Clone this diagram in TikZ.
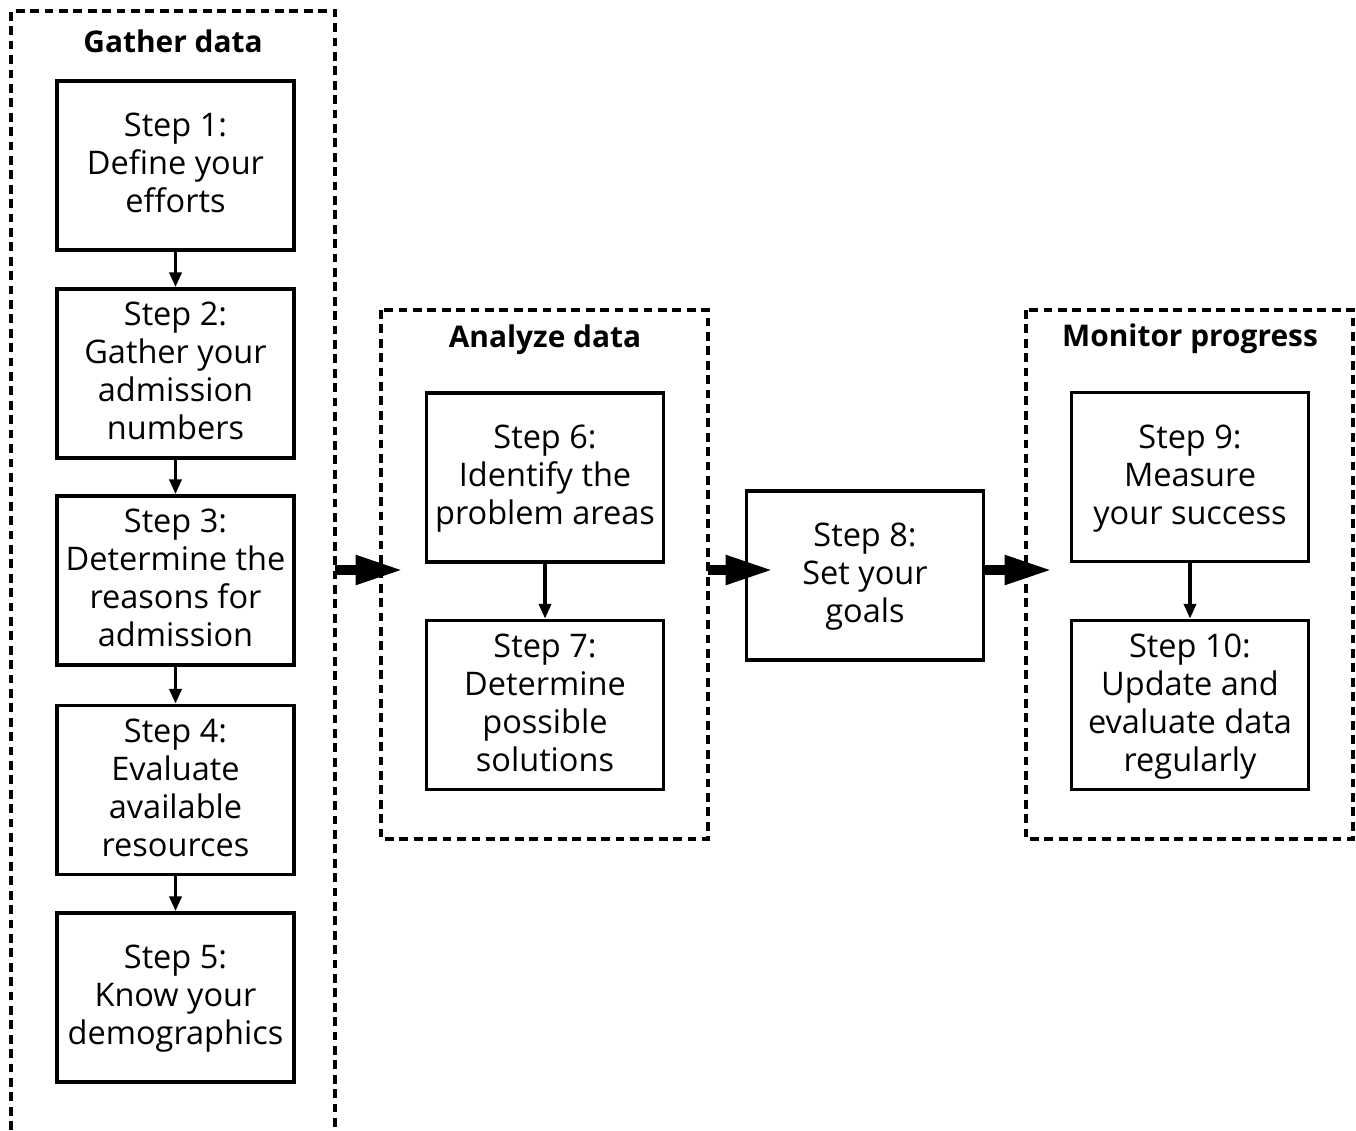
\documentclass[tikz,border=0pt]{standalone}
\usepackage{
	fontspec,
	tikz
}
\setmainfont{Open Sans}
\usetikzlibrary{arrows.meta}

\tikzset{
	stepbox/.style={draw, line width=2pt, minimum width=4.74cm, minimum height=3.38cm, align=center, inner sep=0pt, text depth=0.1cm, font=\fontsize{18.5}{21.6}\selectfont},
	frame/.style={line width=1.8pt, dash pattern=on 5pt off 3.2pt},
	header/.style={font=\fontsize{17}{21.6}\selectfont\bfseries},
	link/.style={line width=2.2pt, -{Triangle[length=0.3cm, width=0.24cm]}},
	flow/.style={line width=5.5pt, -{Triangle[length=0.95cm, width=0.55cm]}}
}

\begin{document}
\begin{tikzpicture}[x=0.02cm, y=-0.02cm]
			\useasboundingbox (0,0) rectangle (1356,1130);
			\draw[frame] (11,1130) |- (335,11) -- (335,1130);
			\draw[frame] (381,310) rectangle (708,839);
			\draw[frame] (1026,310) rectangle (1353,839);
			\node[header] (gather) at (173,41) {Gather data};
			\node[header] (analyze) at (545,340) {Analyze data};
			\node[header] (monitor) at (1190,339) {Monitor progress};
			\node[stepbox] (s1) at (175.5,165.5) {Step 1:\\Define your\\efforts};
			\node[stepbox] (s2) at (175.5,373.5) {Step 2:\\Gather your\\admission\\numbers};
			\node[stepbox] (s3) at (175.5,580.5) {Step 3:\\Determine the\\reasons for\\admission};
			\node[stepbox] (s4) at (175.5,790) {Step 4:\\Evaluate\\available\\resources};
			\node[stepbox] (s5) at (175.5,997.5) {Step 5:\\Know your\\demographics};
			\node[stepbox] (s6) at (545,477.5) {Step 6:\\Identify the\\problem areas};
			\node[stepbox] (s7) at (545,705) {Step 7:\\Determine\\possible\\solutions};
			\node[stepbox] (s8) at (865,575.5) {Step 8:\\Set your\\goals};
			\node[stepbox] (s9) at (1190,477) {Step 9:\\Measure\\your success};
			\node[stepbox] (s10) at (1190,705) {Step 10:\\Update and\\evaluate data\\regularly};
			\draw[link] (s1) -- (s2);
			\draw[link] (s2) -- (s3);
			\draw[link] (s3) -- (s4);
			\draw[link] (s4) -- (s5);
			\draw[link] (s6) -- (s7);
			\draw[link] (s9) -- (s10);
			\coordinate (g) at (335,570);
			\coordinate (a) at (708,570);
			\coordinate (t1) at (403,570);
			\coordinate (t2) at (773,570);
			\coordinate (t3) at (1052,570);
			\draw[flow] (g) -- (t1);
			\draw[flow] (a) -- (t2);
			\draw[flow] (s8.east |- t3) -- (t3);
		\end{tikzpicture}
\end{document}
